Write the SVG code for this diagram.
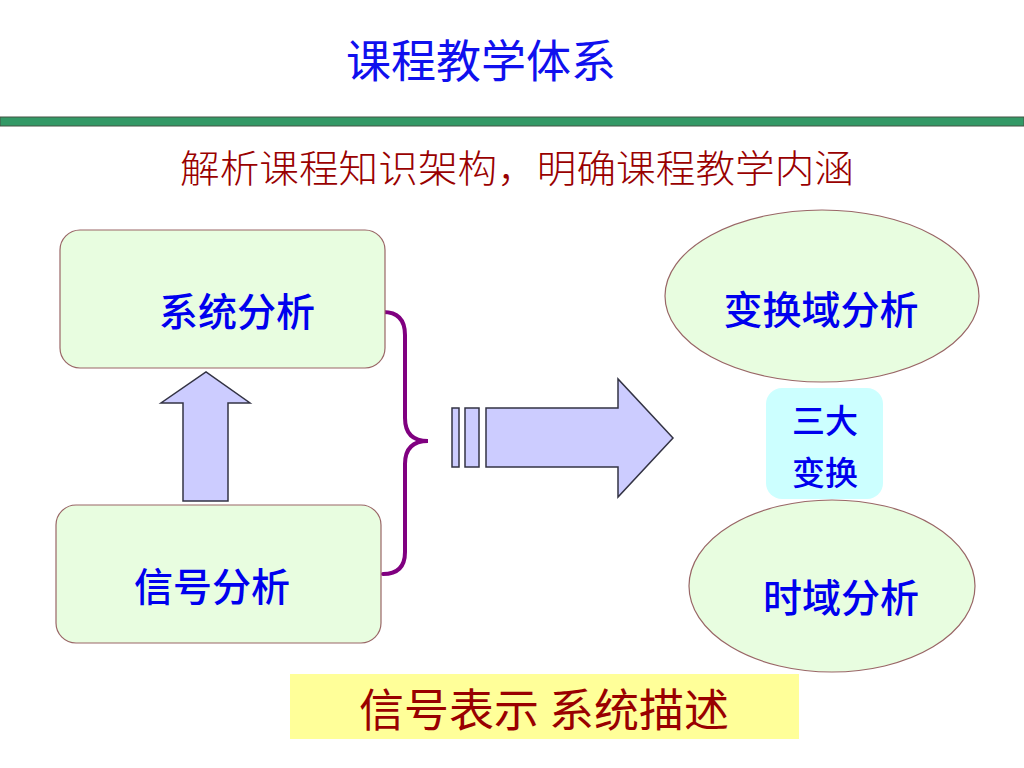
<svg xmlns="http://www.w3.org/2000/svg" width="1024" height="768" viewBox="0 0 1024 768">
<style>
.cjk{font-family:"Noto Sans CJK SC","Liberation Sans",sans-serif}
.box{fill:#e8fde0;stroke:#996666;stroke-width:1.2}
.lbl{fill:#0000ee;font-size:39px;font-weight:500}
.arr{fill:#ccccff;stroke:#333344;stroke-width:1.5}
</style>
<rect width="1024" height="768" fill="#ffffff"/>
<g id="title">
<text class="cjk" x="481" y="78" text-anchor="middle" font-size="45" fill="#1010ee">课程教学体系</text>
</g>
<rect id="rule" x="0" y="117" width="1024" height="9" fill="#339966" stroke="#445544" stroke-width="1"/>
<g id="subtitle">
<text class="cjk" x="517" y="182" text-anchor="middle" font-size="38" font-weight="300" fill="#990000" textLength="674" lengthAdjust="spacingAndGlyphs">解析课程知识架构，明确课程教学内涵</text>
</g>
<g id="connectors">
<path d="M383,312 Q405,312 405,335 L405,418 Q405,441 428,441 Q405,441 405,464 L405,552 Q405,574 383,574" fill="none" stroke="#800080" stroke-width="4" stroke-linecap="round"/>
<polygon class="arr" points="183,501 183,403 161,403 206,372 250,403 228,403 228,501"/>
<rect class="arr" x="452" y="408" width="7" height="59"/>
<rect class="arr" x="465" y="408" width="14" height="59"/>
<polygon class="arr" points="486,408 618,408 618,379 673,438 618,497 618,467 486,467"/>
</g>
<g id="node-system">
<rect class="box" x="60" y="230" width="325" height="138" rx="20"/>
<text class="cjk lbl" x="237" y="326" text-anchor="middle">系统分析</text>
</g>
<g id="node-signal">
<rect class="box" x="56" y="505" width="325" height="138" rx="20"/>
<text class="cjk lbl" x="212" y="601" text-anchor="middle">信号分析</text>
</g>
<g id="node-transform">
<ellipse class="box" cx="822" cy="296" rx="157" ry="86"/>
<text class="cjk lbl" x="821" y="324" text-anchor="middle">变换域分析</text>
</g>
<g id="node-time">
<ellipse class="box" cx="832" cy="586" rx="143" ry="86"/>
<text class="cjk lbl" x="841" y="612" text-anchor="middle">时域分析</text>
</g>
<g id="node-three">
<rect x="766" y="388" width="117" height="111" rx="16" fill="#ccffff"/>
<text class="cjk" x="825" y="433" text-anchor="middle" font-size="33" font-weight="500" fill="#0000ee">三大</text>
<text class="cjk" x="825" y="485" text-anchor="middle" font-size="33" font-weight="500" fill="#0000ee">变换</text>
</g>
<g id="node-bottom">
<rect x="290" y="674" width="509" height="65" fill="#ffff99"/>
<text class="cjk" x="544" y="727" text-anchor="middle" font-size="45" fill="#990000">信号表示 系统描述</text>
</g>
</svg>
